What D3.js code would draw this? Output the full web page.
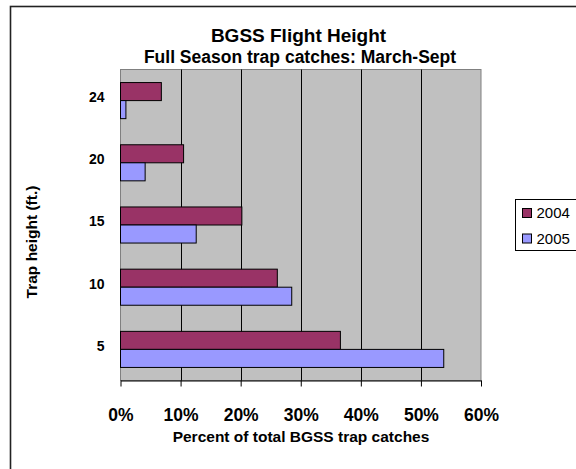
<!DOCTYPE html>
<html>
<head>
<meta charset="utf-8">
<script src="https://cdn.jsdelivr.net/npm/d3@7"></script>
<style>
  html, body { margin: 0; padding: 0; background: #fff; }
  svg { display: block; font-family: "Liberation Sans", Arial, sans-serif; }
</style>
</head>
<body>
<svg id="chart" width="576" height="469"></svg>
<script>
// ---- data ----
const categories = ["24", "20", "15", "10", "5"];
const seriesNames = ["2004", "2005"];
const values2004 = [0.068, 0.105, 0.202, 0.261, 0.366];
const values2005 = [0.009, 0.041, 0.126, 0.285, 0.538];
const xTickValues = [0, 0.1, 0.2, 0.3, 0.4, 0.5, 0.6];
const xTickLabels = ["0%", "10%", "20%", "30%", "40%", "50%", "60%"];
const seriesColors = ["#993366", "#9999FF"];

const titleText = "BGSS Flight Height";
const subtitleText = "Full Season trap catches: March-Sept";
const xTitleText = "Percent of total BGSS trap catches";
const yTitleText = "Trap height (ft.)";

// ---- layout ----
const svg = d3.select("#chart");
const plot = { left: 120.5, right: 481, top: 69.5, bottom: 380.5 };

// outer chart border
svg.append("rect")
  .attr("x", 10.5).attr("y", 6.5)
  .attr("width", 700).attr("height", 600)
  .attr("fill", "#fff").attr("stroke", "#222").attr("stroke-width", 1.6);

const x = d3.scaleLinear().domain([0, 0.6]).range([plot.left, plot.right]);
const y = d3.scaleBand().domain(categories).range([plot.top, plot.bottom]).padding(0);
const barH = y.bandwidth() * 0.29;
const inner = d3.scaleBand().domain(seriesNames)
  .range([y.bandwidth() / 2 - barH, y.bandwidth() / 2 + barH]).padding(0);

// plot background
svg.append("rect")
  .attr("x", plot.left).attr("y", plot.top)
  .attr("width", plot.right - plot.left).attr("height", plot.bottom - plot.top)
  .attr("fill", "#C0C0C0").attr("stroke", "#808080").attr("stroke-width", 1);

// gridlines
svg.append("g").selectAll("line")
  .data(xTickValues.filter(v => v > 0 && v < 0.6))
  .join("line")
  .attr("x1", d => Math.round(x(d)) + 0.5).attr("x2", d => Math.round(x(d)) + 0.5)
  .attr("y1", plot.top).attr("y2", plot.bottom)
  .attr("stroke", "#000").attr("stroke-width", 1);

// bars
const rows = categories.map((c, i) => ({ cat: c, vals: [values2004[i], values2005[i]] }));
const gRows = svg.append("g").selectAll("g")
  .data(rows).join("g")
  .attr("transform", d => `translate(0,${y(d.cat)})`);
gRows.selectAll("rect")
  .data(d => d.vals.map((v, k) => ({ v, k })))
  .join("rect")
  .attr("x", x(0))
  .attr("y", d => inner(seriesNames[d.k]))
  .attr("width", d => x(d.v) - x(0))
  .attr("height", inner.bandwidth())
  .attr("fill", d => seriesColors[d.k])
  .attr("stroke", "#000").attr("stroke-width", 1);

// x axis
const xAxis = d3.axisBottom(x)
  .tickValues(xTickValues)
  .tickFormat((d, i) => xTickLabels[i])
  .tickSize(6).tickSizeOuter(0).tickPadding(22);
const gx = svg.append("g").attr("transform", `translate(0,${plot.bottom})`).call(xAxis);
gx.select(".domain").attr("stroke", "#000");
gx.selectAll(".tick line").attr("stroke", "#000");
gx.selectAll(".tick text")
  .attr("fill", "#000")
  .style("font-family", "'Liberation Sans', Arial, sans-serif")
  .style("font-size", "17.5px").style("font-weight", "bold");

// y axis labels (no ticks)
const yAxis = d3.axisLeft(y).tickSize(0).tickPadding(16);
const gy = svg.append("g").attr("transform", `translate(${plot.left},0)`).call(yAxis);
gy.select(".domain").remove();
gy.selectAll(".tick text")
  .attr("fill", "#000")
  .attr("dy", "0.1em")
  .style("font-family", "'Liberation Sans', Arial, sans-serif")
  .style("font-size", "14px").style("font-weight", "bold");

// titles
svg.append("text").text(titleText)
  .attr("x", 298.5).attr("y", 41.5).attr("text-anchor", "middle")
  .style("font-size", "19px").style("font-weight", "bold");
svg.append("text").text(subtitleText)
  .attr("x", 300).attr("y", 62.5).attr("text-anchor", "middle")
  .style("font-size", "17.5px").style("font-weight", "bold");
svg.append("text").text(xTitleText)
  .attr("x", 301).attr("y", 441.5).attr("text-anchor", "middle")
  .style("font-size", "15.5px").style("font-weight", "bold");
svg.append("text").text(yTitleText)
  .attr("transform", "translate(36.5,242) rotate(-90)").attr("text-anchor", "middle")
  .style("font-size", "15.5px").style("font-weight", "bold");

// legend
const lg = svg.append("g");
lg.append("rect")
  .attr("x", 515.5).attr("y", 199.5).attr("width", 100).attr("height", 51)
  .attr("fill", "#fff").attr("stroke", "#000").attr("stroke-width", 1);
const items = lg.selectAll("g.item").data(seriesNames).join("g")
  .attr("class", "item")
  .attr("transform", (d, i) => `translate(522.5,${208.5 + i * 25.5})`);
items.append("rect")
  .attr("width", 9).attr("height", 9)
  .attr("fill", (d, i) => seriesColors[i]).attr("stroke", "#000").attr("stroke-width", 1);
items.append("text").text(d => d)
  .attr("x", 14).attr("y", 9.5)
  .style("font-size", "15px");
</script>
</body>
</html>
